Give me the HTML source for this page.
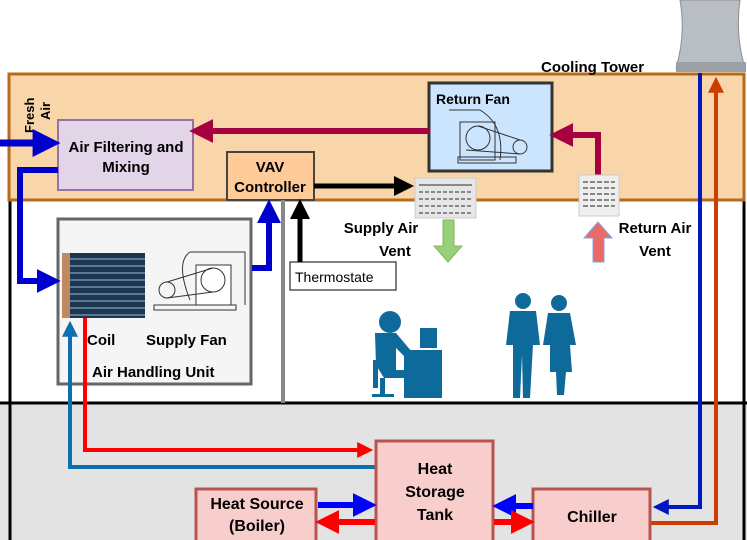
<!DOCTYPE html>
<html><head><meta charset="utf-8"><style>
body{margin:0;background:#fff}
svg{display:block;font-family:"Liberation Sans",sans-serif;font-weight:bold}
</style></head><body>
<svg width="747" height="540" viewBox="0 0 747 540" xmlns="http://www.w3.org/2000/svg">
<defs>
<marker id="m" markerWidth="4" markerHeight="4" refX="2.2" refY="2" orient="auto" markerUnits="strokeWidth"><path d="M0,0 L4,2 L0,4 z" fill="context-stroke"/></marker>
</defs>
<!-- bands -->
<rect x="0" y="403" width="747" height="137" fill="#e3e3e3"/>
<line x1="0" y1="403" x2="747" y2="403" stroke="#000" stroke-width="3"/>
<line x1="10" y1="200" x2="10" y2="540" stroke="#000" stroke-width="3"/>
<line x1="744" y1="200" x2="744" y2="540" stroke="#000" stroke-width="3"/>
<rect x="9" y="74" width="735" height="126" fill="#f9d5aa" stroke="#b8691a" stroke-width="3"/>
<!-- cooling tower -->
<path d="M680,0 L740,0 Q735,35 745,68 L676,68 Q686,35 680,0z" fill="#b9bec3" stroke="#8a8f94"/>
<rect x="676" y="62" width="70" height="10" fill="#9aa0a6"/>
<text x="541" y="72" font-size="15">Cooling Tower</text>
<!-- fresh air -->
<text transform="translate(34,133) rotate(-90)" font-size="13">Fresh</text>
<text transform="translate(50,120) rotate(-90)" font-size="13">Air</text>
<!-- air filtering -->
<rect x="58" y="120" width="135" height="70" fill="#e1d5e7" stroke="#9673a6" stroke-width="2"/>
<text x="126" y="152" font-size="15" text-anchor="middle">Air Filtering and</text>
<text x="126" y="172" font-size="15" text-anchor="middle">Mixing</text>
<!-- VAV -->
<rect x="227" y="152" width="87" height="48" fill="#ffcc99" stroke="#444" stroke-width="2"/>
<text x="270" y="172" font-size="15" text-anchor="middle">VAV</text>
<text x="270" y="192" font-size="15" text-anchor="middle">Controller</text>
<!-- return fan -->
<rect x="429" y="83" width="123" height="88" fill="#cce5ff" stroke="#333" stroke-width="3"/>
<text x="436" y="104" font-size="14">Return Fan</text>
<g fill="none" stroke="#333" stroke-width="1">
<path d="M449,110 L480,110 Q505,125 500,160"/><rect x="460" y="122" width="35" height="38"/>
<circle cx="478" cy="138" r="12"/><circle cx="520" cy="147" r="7"/>
<path d="M466,150 L520,154 M478,126 L520,140"/><rect x="458" y="157" width="58" height="6"/>
</g>
<!-- red return flow -->
<line x1="429" y1="131" x2="200" y2="131" stroke="#a50040" stroke-width="6" marker-end="url(#m)"/>
<polyline points="598,176 598,135 560,135" fill="none" stroke="#a50040" stroke-width="6" marker-end="url(#m)"/>
<!-- vents -->
<rect x="415" y="178" width="61" height="40" fill="#e6e6e6" stroke="#ccc"/>
<g stroke="#888" stroke-width="2"><line x1="419" y1="185" x2="472" y2="185"/><line x1="419" y1="192" x2="472" y2="192" stroke-dasharray="4 2"/><line x1="419" y1="199" x2="472" y2="199" stroke-dasharray="4 2"/><line x1="419" y1="206" x2="472" y2="206" stroke-dasharray="4 2"/><line x1="419" y1="213" x2="472" y2="213" stroke-dasharray="4 2"/></g>
<rect x="579" y="175" width="40" height="41" fill="#eee" stroke="#ccc"/>
<g stroke="#888" stroke-width="2" stroke-dasharray="5 2"><line x1="583" y1="182" x2="615" y2="182"/><line x1="583" y1="188" x2="615" y2="188"/><line x1="583" y1="194" x2="615" y2="194"/><line x1="583" y1="200" x2="615" y2="200"/><line x1="583" y1="206" x2="615" y2="206"/></g>
<!-- black arrows -->
<line x1="314" y1="186" x2="405" y2="186" stroke="#000" stroke-width="5" marker-end="url(#m)"/>
<line x1="300" y1="262" x2="300" y2="208" stroke="#000" stroke-width="5" marker-end="url(#m)"/>
<line x1="283" y1="200" x2="283" y2="403" stroke="#888" stroke-width="4"/>
<rect x="290" y="262" width="106" height="28" fill="#fff" stroke="#000"/>
<text x="295" y="282" font-size="14" font-weight="normal">Thermostate</text>
<!-- vent arrows and labels -->
<path d="M443,220 L454,220 L454,246 L462,246 L448,262 L434,246 L443,246z" fill="#97d077" stroke="#82b366"/>
<path d="M593,262 L604,262 L604,238 L612,238 L598,222 L584,238 L593,238z" fill="#ea6b66" stroke="#7ea6e0"/>
<text x="381" y="233" font-size="15" text-anchor="middle">Supply Air</text>
<text x="395" y="256" font-size="15" text-anchor="middle">Vent</text>
<text x="655" y="233" font-size="15" text-anchor="middle">Return Air</text>
<text x="655" y="256" font-size="15" text-anchor="middle">Vent</text>
<!-- AHU -->
<rect x="58" y="219" width="193" height="165" fill="#f5f5f5" stroke="#666" stroke-width="3"/>
<rect x="62" y="253" width="83" height="65" fill="#1e3550"/>
<g stroke="#6d8fb0" stroke-width="1.5"><line x1="68" y1="259" x2="145" y2="259"/><line x1="68" y1="266" x2="145" y2="266"/><line x1="68" y1="273" x2="145" y2="273"/><line x1="68" y1="280" x2="145" y2="280"/><line x1="68" y1="287" x2="145" y2="287"/><line x1="68" y1="294" x2="145" y2="294"/><line x1="68" y1="301" x2="145" y2="301"/><line x1="68" y1="308" x2="145" y2="308"/><line x1="68" y1="315" x2="145" y2="315"/></g>
<rect x="62" y="253" width="8" height="65" fill="#c08a60"/>
<g fill="none" stroke="#333" stroke-width="1">
<path d="M190,252 L245,252 L245,305"/><path d="M190,252 Q175,262 190,300"/><rect x="196" y="265" width="35" height="40" fill="#fff"/>
<circle cx="213" cy="280" r="12"/><circle cx="167" cy="290" r="8"/>
<path d="M167,282 L213,268 M167,298 L213,292"/><rect x="154" y="305" width="82" height="5"/>
</g>
<text x="87" y="345" font-size="15">Coil</text>
<text x="146" y="345" font-size="15">Supply Fan</text>
<text x="92" y="377" font-size="15">Air Handling Unit</text>
<!-- blue air flows -->
<line x1="0" y1="143" x2="48" y2="143" stroke="#0000cc" stroke-width="7" marker-end="url(#m)"/>
<polyline points="58,170 20,170 20,281 50,281" fill="none" stroke="#0000cc" stroke-width="6" marker-end="url(#m)"/>
<polyline points="252,268 269,268 269,210" fill="none" stroke="#0000cc" stroke-width="6" marker-end="url(#m)"/>
<!-- pipes -->
<polyline points="376,467 70,467 70,328" fill="none" stroke="#0e6fb0" stroke-width="4" marker-end="url(#m)"/>
<polyline points="85,318 85,450 366,450" fill="none" stroke="#ff0000" stroke-width="4" marker-end="url(#m)"/>
<polyline points="700,73 700,507 660,507" fill="none" stroke="#0018c0" stroke-width="4" marker-end="url(#m)"/>
<polyline points="650,523 716,523 716,84" fill="none" stroke="#cc3d00" stroke-width="4" marker-end="url(#m)"/>
<!-- bottom boxes -->
<rect x="376" y="441" width="117" height="103" fill="#f8cecc" stroke="#b85450" stroke-width="3"/>
<text x="435" y="474" font-size="16" text-anchor="middle">Heat</text>
<text x="435" y="497" font-size="16" text-anchor="middle">Storage</text>
<text x="435" y="520" font-size="16" text-anchor="middle">Tank</text>
<rect x="196" y="489" width="120" height="55" fill="#f8cecc" stroke="#b85450" stroke-width="3"/>
<text x="257" y="509" font-size="16" text-anchor="middle">Heat Source</text>
<text x="257" y="531" font-size="16" text-anchor="middle">(Boiler)</text>
<rect x="533" y="489" width="117" height="55" fill="#f8cecc" stroke="#b85450" stroke-width="3"/>
<text x="592" y="522" font-size="16" text-anchor="middle">Chiller</text>
<line x1="318" y1="505" x2="366" y2="505" stroke="#0000ff" stroke-width="6" marker-end="url(#m)"/>
<line x1="375" y1="522" x2="326" y2="522" stroke="#ff0000" stroke-width="6" marker-end="url(#m)"/>
<line x1="533" y1="506" x2="503" y2="506" stroke="#0000ff" stroke-width="6" marker-end="url(#m)"/>
<line x1="494" y1="522" x2="524" y2="522" stroke="#ff0000" stroke-width="6" marker-end="url(#m)"/>
<!-- people -->
<g fill="#0e6a9a">
<circle cx="390" cy="322" r="11"/>
<path d="M375,333 L396,333 L412,352 L406,358 L396,348 L396,370 L412,370 L412,378 L384,378 L376,365z"/>
<rect x="373" y="360" width="5" height="28"/><rect x="380" y="378" width="5" height="16"/><rect x="372" y="394" width="22" height="3"/>
<rect x="420" y="328" width="17" height="20"/><rect x="404" y="350" width="38" height="48"/>
<circle cx="523" cy="301" r="8"/>
<path d="M510,311 L536,311 L540,345 L533,345 L530,398 L523,398 L522,355 L520,398 L513,398 L513,345 L506,345z"/>
<circle cx="559" cy="303" r="8"/>
<path d="M548,313 L570,313 L576,345 L570,345 L572,372 L566,372 L564,395 L557,395 L556,372 L550,372 L550,345 L543,345z"/>
</g>
</svg>
</body></html>
